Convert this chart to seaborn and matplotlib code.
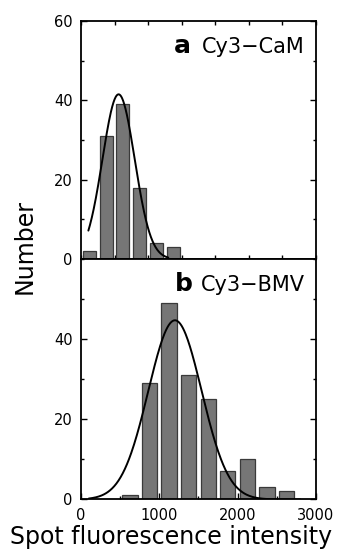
import numpy as np
import pandas as pd
import matplotlib
matplotlib.use("Agg")
import matplotlib.pyplot as plt
from matplotlib.ticker import MultipleLocator
import seaborn as sns

# histogram bins (bin centres, 250 wide) and counts
cam_bins = [125, 375, 625, 875, 1125, 1375]
cam_counts = [2, 31, 39, 18, 4, 3]
bmv_bins = [625, 875, 1125, 1375, 1625, 1875, 2125, 2375, 2625]
bmv_counts = [1, 29, 49, 31, 25, 7, 10, 3, 2]

# gaussian fits: amplitude, mean, sd, drawn range
cam_fit = dict(amp=41.5, mean=560, sd=240, lo=110, hi=1300)
bmv_fit = dict(amp=44.7, mean=1200, sd=340, lo=100, hi=2800)

sns.set_style("ticks")
plt.rcParams["font.family"] = ["DejaVu Sans"]
plt.rcParams["text.color"] = "black"
plt.rcParams["xtick.color"] = "black"
plt.rcParams["ytick.color"] = "black"

bar_face = "#767676"
bar_edge = "#3a3a3a"


def fit_curve(p):
    x = np.linspace(p["lo"], p["hi"], 300)
    y = p["amp"] * np.exp(-(x - p["mean"]) ** 2 / (2 * p["sd"] ** 2))
    return pd.DataFrame({"x": x, "y": y})


def style_axis(ax):
    for s in ax.spines.values():
        s.set_linewidth(1.3)
        s.set_color("black")
    ax.tick_params(which="both", direction="in", top=True, right=True,
                   width=1.0, colors="black", labelcolor="black",
                   labelsize=10.5, pad=6)
    ax.tick_params(which="major", length=4)
    ax.tick_params(which="minor", length=2.5)
    ax.set_xlabel("")
    ax.set_ylabel("")


fig = plt.figure(figsize=(3.41, 5.51), dpi=100)
ax_a = fig.add_axes([0.2375, 0.530, 0.689, 0.432])
ax_b = fig.add_axes([0.2375, 0.0935, 0.689, 0.4365])

# panel a
df_a = pd.DataFrame({"bin": cam_bins, "count": cam_counts})
sns.barplot(data=df_a, x="bin", y="count", native_scale=True, width=0.78,
            color=bar_face, saturation=1, edgecolor=bar_edge, linewidth=0.9,
            ax=ax_a)
sns.lineplot(data=fit_curve(cam_fit), x="x", y="y", color="black", lw=1.4,
             ax=ax_a)
ax_a.set_xlim(0, 3500)
ax_a.set_ylim(0, 60)
ax_a.xaxis.set_major_locator(MultipleLocator(500))
ax_a.yaxis.set_major_locator(MultipleLocator(20))
ax_a.yaxis.set_minor_locator(MultipleLocator(10))
style_axis(ax_a)
ax_a.tick_params(axis="x", which="both", labelbottom=False, length=3)
ax_a.text(0.95, 0.866, "Cy3\u2212CaM", transform=ax_a.transAxes,
          ha="right", va="baseline", fontsize=15, color="black")
ax_a.text(0.466, 0.866, "a", transform=ax_a.transAxes,
          ha="right", va="baseline", fontsize=18, fontweight="bold",
          color="black")

# panel b
df_b = pd.DataFrame({"bin": bmv_bins, "count": bmv_counts})
sns.barplot(data=df_b, x="bin", y="count", native_scale=True, width=0.78,
            color=bar_face, saturation=1, edgecolor=bar_edge, linewidth=0.9,
            ax=ax_b)
sns.lineplot(data=fit_curve(bmv_fit), x="x", y="y", color="black", lw=1.4,
             ax=ax_b)
ax_b.set_xlim(0, 3000)
ax_b.set_ylim(0, 60)
ax_b.xaxis.set_major_locator(MultipleLocator(1000))
ax_b.xaxis.set_minor_locator(MultipleLocator(500))
ax_b.yaxis.set_major_locator(MultipleLocator(20))
ax_b.yaxis.set_minor_locator(MultipleLocator(10))
ax_b.set_yticks([0, 20, 40])
style_axis(ax_b)
ax_b.tick_params(axis="x", which="both", top=False)
ax_b.text(0.953, 0.868, "Cy3\u2212BMV", transform=ax_b.transAxes,
          ha="right", va="baseline", fontsize=15, color="black")
ax_b.text(0.474, 0.868, "b", transform=ax_b.transAxes,
          ha="right", va="baseline", fontsize=18, fontweight="bold",
          color="black")

fig.text(0.502, 0.012, "Spot fluorescence intensity", ha="center",
         va="baseline", fontsize=17, color="black")
fig.text(0.072, 0.553, "Number", rotation=90, ha="center", va="center",
         fontsize=17, color="black")

fig.savefig("out.png", dpi=100)
